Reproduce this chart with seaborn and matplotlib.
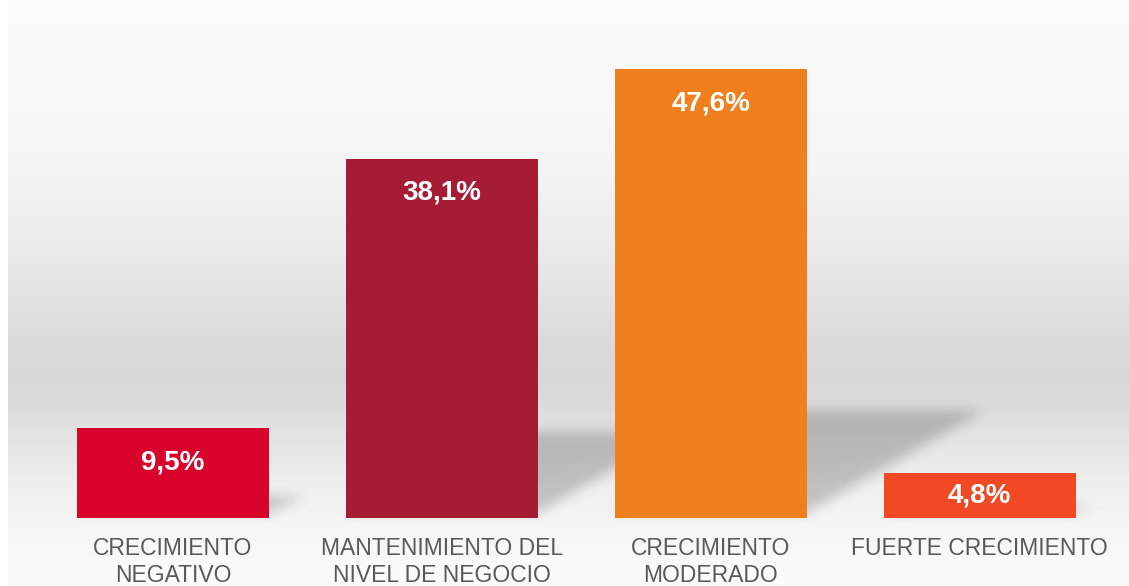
import numpy as np
import pandas as pd
import matplotlib
matplotlib.use("Agg")
import matplotlib.pyplot as plt
from matplotlib.patches import Polygon
import seaborn as sns

# data
categories = ["CRECIMIENTO\nNEGATIVO", "MANTENIMIENTO DEL\nNIVEL DE NEGOCIO",
              "CRECIMIENTO\nMODERADO", "FUERTE CRECIMIENTO"]
values = [9.5, 38.1, 47.6, 4.8]
colors = ["#d9042b", "#a61c35", "#f0801e", "#f04923"]

df = pd.DataFrame({"cat": categories, "pct": values})

sns.set_style("white")
plt.rcParams["font.family"] = ["Liberation Sans", "DejaVu Sans"]

W, H = 1129, 586
fig = plt.figure(figsize=(W / 100, H / 100), dpi=100)
fig.patch.set_facecolor("white")

# grey wall gradient behind the chart
bg = fig.add_axes([8 / W, 0, 1 - 8 / W, 1], zorder=0)
stops_y = [0, 150, 200, 250, 300, 340, 380, 410, 450, 490, 530, 586]
stops_v = [253, 246, 241, 235, 226, 219, 216, 221, 231, 240, 246, 252]
grad = np.interp(np.arange(H), stops_y, stops_v) / 255.0
bg.imshow(np.dstack([grad[:, None]] * 3), aspect="auto",
          extent=[0, 1, 1, 0], interpolation="bilinear")
bg.set_axis_off()

ax = fig.add_axes([8 / W, 68 / H, 1 - 8 / W, 518 / H], zorder=1)
ax.patch.set_alpha(0)

sns.barplot(data=df, x="cat", y="pct", hue="cat", palette=colors,
            width=0.714, legend=False, saturation=1, linewidth=0,
            ax=ax, zorder=3)

ax.set_xlim(-0.614, 3.556)
ax.set_ylim(0, 54.93)
ax.set_xlabel("")
ax.set_ylabel("")
ax.set_yticks([])
sns.despine(ax=ax, left=True, bottom=True)
ax.tick_params(axis="x", length=0, pad=14, labelsize=16.5, labelcolor="#595959")
for lbl in ax.get_xticklabels():
    lbl.set_linespacing(1.2)
    lbl.set_multialignment("center")

# px -> data conversion for the shadows
px_x = 1121 / (3.556 + 0.614)
px_y = 518 / 54.93


def blur(im, dpi):
    r = 6.0
    pad = int(3 * r)
    a = np.pad(im[:, :, 3], pad)
    k = np.exp(-0.5 * (np.arange(-pad, pad + 1) / r) ** 2)
    k /= k.sum()
    a = np.apply_along_axis(np.convolve, 0, a, k, mode="same")
    a = np.apply_along_axis(np.convolve, 1, a, k, mode="same")
    out = np.zeros(a.shape + (4,), dtype=im.dtype)
    out[..., 3] = a
    return out, -pad, -pad


half = 0.714 / 2
for i, v in enumerate(values):
    hs = 0.24 * v
    shift = 1.65 * hs * px_y / px_x
    poly = Polygon([(i - half, 0.6), (i + half, 0.6),
                    (i + half + shift, hs), (i - half + shift, hs)],
                   closed=True, facecolor="black", edgecolor="none",
                   alpha=0.2, zorder=2)
    poly.set_agg_filter(blur)
    ax.add_patch(poly)

# value labels inside the bars
for i, v in enumerate(values):
    ty = max(v - 34 / px_y, v / 2)
    ax.text(i, ty, f"{v:.1f}".replace(".", ",") + "%", ha="center", va="center",
            color="white", fontsize=20, fontweight="bold", zorder=4)

fig.savefig("out.png", dpi=100)
